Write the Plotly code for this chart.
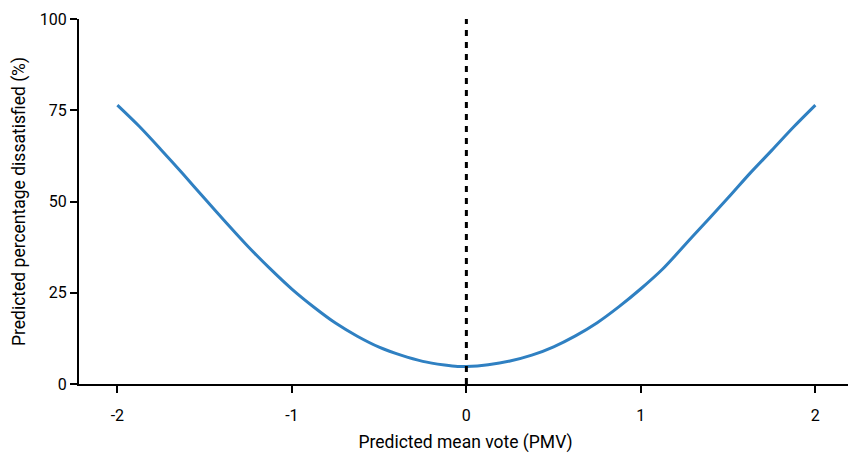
import plotly.graph_objects as go

pmv = [-2.0, -1.875, -1.75, -1.625, -1.5, -1.375, -1.25, -1.125, -1.0, -0.875, -0.75, -0.625,
       -0.5, -0.375, -0.25, -0.125, -0.05, 0.0, 0.125, 0.25, 0.375, 0.5, 0.625, 0.75, 0.875,
       1.0, 1.125, 1.3, 1.5, 1.625, 1.75, 1.875, 2.0]
ppd = [76.4, 70.6, 64.2, 57.6, 50.8, 44.1, 37.6, 31.6, 26.0, 21.1, 16.7, 13.1,
       10.1, 7.9, 6.2, 5.2, 4.8, 4.8, 5.3, 6.3, 7.9, 10.2, 13.2, 16.8, 21.2,
       26.1, 31.5, 40.6, 51.0, 57.7, 64.0, 70.4, 76.4]

ref_x = [0, 0]
ref_y = [0, 100]

x_ticks = [-2, -1, 0, 1, 2]
y_ticks = [0, 25, 50, 75, 100]

font_family = "Roboto, sans-serif"

fig = go.Figure()
fig.add_trace(go.Scatter(x=pmv, y=ppd, mode="lines",
                         line=dict(color="#2f80c2", width=3, shape="spline", smoothing=0.8),
                         showlegend=False, hoverinfo="skip"))
fig.add_trace(go.Scatter(x=ref_x, y=ref_y, mode="lines",
                         line=dict(color="black", width=3, dash="6px,6px"),
                         showlegend=False, hoverinfo="skip"))

# The page body adds an 8px offset; sizes/margins compensate for it.
fig.update_layout(
    width=848, height=445,
    margin=dict(l=71, r=4, t=11, b=69),
    paper_bgcolor="white", plot_bgcolor="white",
    font=dict(family=font_family, size=16, color="black"),
    xaxis=dict(range=[-2.22, 2.21], tickvals=x_ticks, ticktext=[str(v) for v in x_ticks],
               showgrid=False, zeroline=False, showline=True, linecolor="black", linewidth=2,
               ticks="outside", ticklen=7, tickwidth=2, tickcolor="black", automargin=False,
               tickfont=dict(size=16), ticklabelstandoff=9,
               title=dict(text="Predicted mean vote (PMV)", standoff=14, font=dict(size=17.5))),
    yaxis=dict(range=[0, 100], tickvals=y_ticks, ticktext=[str(v) for v in y_ticks],
               showgrid=False, zeroline=False, showline=True, linecolor="black", linewidth=2,
               ticks="outside", ticklen=7, tickwidth=2, tickcolor="black", automargin=False,
               tickfont=dict(size=16),
               title=dict(text="Predicted percentage dissatisfied (%)", standoff=10, font=dict(size=17.5))),
)

fig.write_html("out.html")
